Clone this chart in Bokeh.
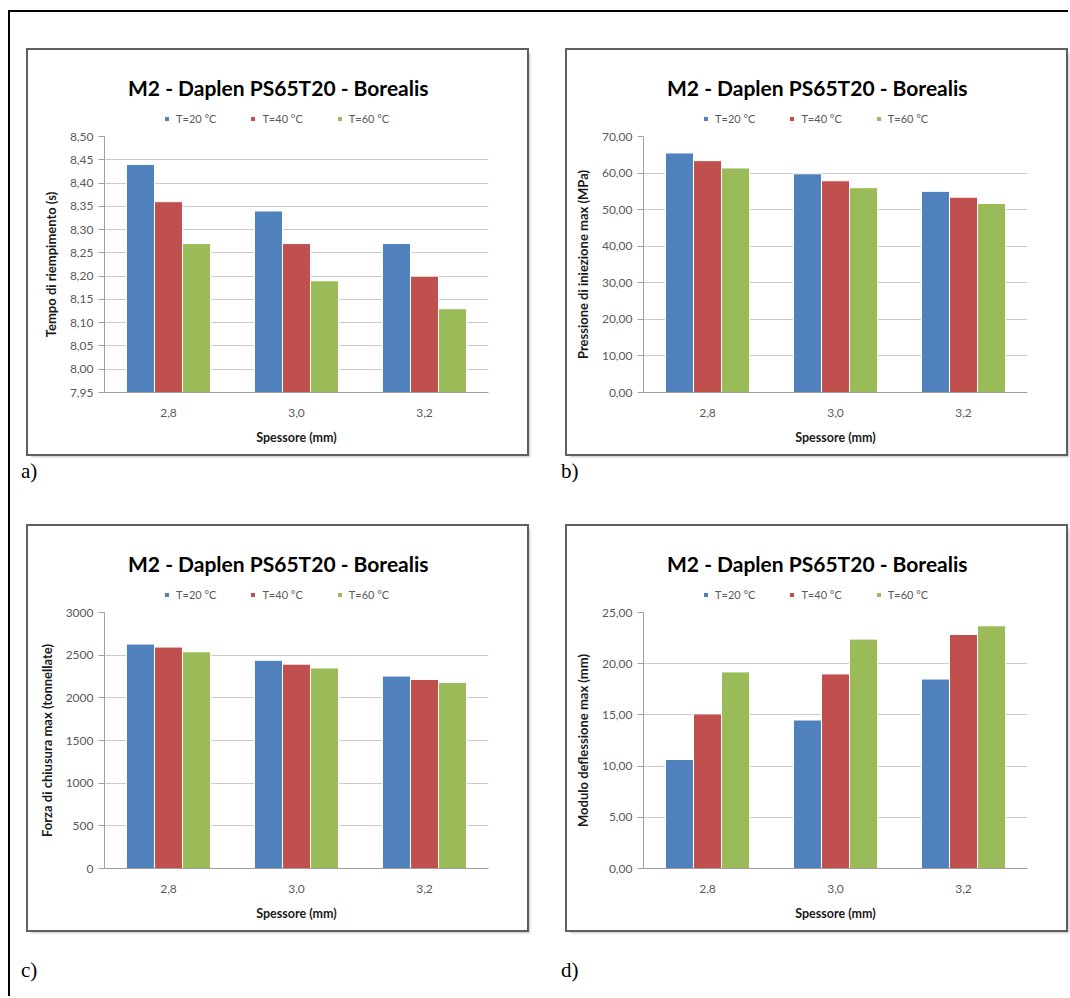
from bokeh.plotting import figure
from bokeh.models import (ColumnDataSource, Range1d, FactorRange, FixedTicker,
                          CustomJSTickFormatter, Legend, LegendItem, Div)
from bokeh.layouts import column, row
from bokeh.transform import dodge
from bokeh.embed import file_html
from bokeh.resources import INLINE

# ---------------- data ----------------
categories = ["2,8", "3,0", "3,2"]
series_labels = ["T=20 °C", "T=40 °C", "T=60 °C"]
colors = ["#4F81BD", "#C0504D", "#9BBB59"]
chart_title = "M2 - Daplen PS65T20 - Borealis"
x_title = "Spessore (mm)"
panel_labels = ["a)", "b)", "c)", "d)"]

a_ylabel = "Tempo di riempimento (s)"
a_t20 = [8.44, 8.34, 8.27]
a_t40 = [8.36, 8.27, 8.20]
a_t60 = [8.27, 8.19, 8.13]
a_ticks = [7.95, 8.00, 8.05, 8.10, 8.15, 8.20, 8.25, 8.30, 8.35, 8.40, 8.45, 8.50]

b_ylabel = "Pressione di iniezione max (MPa)"
b_t20 = [65.5, 59.8, 55.0]
b_t40 = [63.4, 57.9, 53.4]
b_t60 = [61.4, 56.0, 51.7]
b_ticks = [0, 10, 20, 30, 40, 50, 60, 70]

c_ylabel = "Forza di chiusura max (tonnellate)"
c_t20 = [2630, 2440, 2255]
c_t40 = [2595, 2395, 2215]
c_t60 = [2540, 2350, 2180]
c_ticks = [0, 500, 1000, 1500, 2000, 2500, 3000]

d_ylabel = "Modulo deflessione max (mm)"
d_t20 = [10.65, 14.50, 18.50]
d_t40 = [15.10, 19.00, 22.85]
d_t60 = [19.20, 22.40, 23.70]
d_ticks = [0, 5, 10, 15, 20, 25]

FONT = "Lato"
GRID = "#cccccc"
AXIS = "#a0a0a0"
FIG_W = 499
HEAD_H = 78          # header (title + legend) height
CHART_H = 326        # plot part height
B_LEFT, B_RIGHT, B_TOP, B_BOTTOM = 76, 39, 8, 62
KEYS = ["t20", "t40", "t60"]
OFFSETS = [-0.219, 0.0, 0.219]
BOX_STYLE = {"outline": "2px solid #5f5f5f",
             "box-shadow": "3px 3px 2px rgba(0,0,0,0.25)",
             "background": "#ffffff"}


def make_header(src, ticks):
    h = figure(width=FIG_W, height=HEAD_H, x_range=FactorRange(factors=categories),
               y_range=Range1d(ticks[0], ticks[-1]),
               x_axis_type=None, y_axis_type=None,
               output_backend="svg", toolbar_location=None, title=chart_title,
               min_border_left=B_LEFT, min_border_right=B_RIGHT,
               min_border_top=55, min_border_bottom=0)
    h.outline_line_color = None
    h.title.text_font = FONT
    h.title.text_font_size = "21px"
    h.title.text_font_style = "bold"
    h.title.text_color = "#000000"
    h.title.align = "left"
    h.title.offset = 23.5
    h.title.standoff = 11
    # legend keys: same series as the chart, not drawn in this header strip
    keys = []
    for key, off, col in zip(KEYS, OFFSETS, colors):
        r = h.vbar(x=dodge("cat", off, range=h.x_range), top=key,
                   bottom=ticks[0], width=0.219, source=src,
                   fill_color=col, line_color=None, visible=False)
        keys.append(r)
    legend = Legend(items=[LegendItem(label=lab, renderers=[r])
                           for lab, r in zip(series_labels, keys)],
                    orientation="horizontal", location=(60, 3),
                    glyph_width=5, glyph_height=5, label_standoff=7,
                    label_height=14, label_width=20, spacing=34,
                    padding=2, margin=0,
                    label_text_font=FONT, label_text_font_size="11px",
                    label_text_color="#595959",
                    inactive_fill_alpha=0,
                    border_line_color=None, background_fill_alpha=0)
    h.add_layout(legend, "center")
    return h


def make_chart(src, ylabel, ticks, decimals):
    p = figure(x_range=FactorRange(factors=categories),
               y_range=Range1d(ticks[0], ticks[-1]),
               width=FIG_W, height=CHART_H, output_backend="svg",
               toolbar_location=None,
               min_border_left=B_LEFT, min_border_right=B_RIGHT,
               min_border_top=B_TOP, min_border_bottom=B_BOTTOM)
    p.outline_line_color = None

    for key, off, col in zip(KEYS, OFFSETS, colors):
        p.vbar(x=dodge("cat", off, range=p.x_range), top=key,
               bottom=ticks[0], width=0.219, source=src,
               fill_color=col, line_color="white", line_width=1)

    # y axis
    p.yaxis.ticker = FixedTicker(ticks=ticks)
    p.yaxis.formatter = CustomJSTickFormatter(
        args=dict(d=decimals),
        code="return tick.toFixed(d).replace('.', ',');")
    p.yaxis.axis_label = ylabel
    p.yaxis.axis_label_text_font = FONT
    p.yaxis.axis_label_text_font_size = "13px"
    p.yaxis.axis_label_text_font_style = "bold"
    p.yaxis.axis_label_text_color = "#1a1a1a"
    p.yaxis.axis_label_standoff = 8
    p.yaxis.major_label_text_font = FONT
    p.yaxis.major_label_text_font_size = "12px"
    p.yaxis.major_label_text_color = "#595959"
    p.yaxis.major_label_standoff = 5
    p.yaxis.major_tick_out = 6
    p.yaxis.major_tick_in = 0
    p.yaxis.minor_tick_out = 0
    p.yaxis.minor_tick_in = 0
    p.yaxis.axis_line_color = AXIS
    p.yaxis.major_tick_line_color = AXIS

    # x axis
    p.xaxis.axis_label = x_title
    p.xaxis.axis_label_text_font = FONT
    p.xaxis.axis_label_text_font_size = "12.5px"
    p.xaxis.axis_label_text_font_style = "bold"
    p.xaxis.axis_label_text_color = "#1a1a1a"
    p.xaxis.axis_label_standoff = 10
    p.xaxis.major_label_text_font = FONT
    p.xaxis.major_label_text_font_size = "12px"
    p.xaxis.major_label_text_color = "#595959"
    p.xaxis.major_label_standoff = 16
    p.xaxis.major_tick_out = 0
    p.xaxis.major_tick_in = 0
    p.xaxis.axis_line_color = AXIS

    p.xgrid.grid_line_color = None
    p.ygrid.grid_line_color = GRID
    p.ygrid.ticker = FixedTicker(ticks=ticks)
    return p


def chart_box(ylabel, t20, t40, t60, ticks, decimals, margin):
    src = ColumnDataSource(dict(cat=categories, t20=t20, t40=t40, t60=t60))
    box = column(make_header(src, ticks), make_chart(src, ylabel, ticks, decimals))
    box.styles = BOX_STYLE
    box.margin = margin
    return box


def label_div(txt, margin):
    html = ('<div style="font-family:\'Liberation Serif\',serif;font-size:21px;'
            'line-height:24px;color:#000;white-space:nowrap;">%s</div>' % txt)
    return Div(text=html, width=40, height=24, margin=margin)


box_a = chart_box(a_ylabel, a_t20, a_t40, a_t60, a_ticks, 2, (50, 0, 0, 28))
box_b = chart_box(b_ylabel, b_t20, b_t40, b_t60, b_ticks, 2, (50, 2, 0, 40))
box_c = chart_box(c_ylabel, c_t20, c_t40, c_t60, c_ticks, 0, (43, 0, 0, 28))
box_d = chart_box(d_ylabel, d_t20, d_t40, d_t60, d_ticks, 2, (43, 2, 0, 40))

col_a = column(box_a, label_div(panel_labels[0], (5, 0, 0, 21)))
col_b = column(box_b, label_div(panel_labels[1], (5, 0, 0, 34)))
col_c = column(box_c, label_div(panel_labels[2], (28, 0, 14, 21)))
col_d = column(box_d, label_div(panel_labels[3], (28, 0, 14, 34)))

root = column(row(col_a, col_b), row(col_c, col_d))
root.styles = {
    "background": ("linear-gradient(#000,#000) 8px 10px / 100% 2px no-repeat, "
                   "linear-gradient(#000,#000) 8px 10px / 2px 100% no-repeat"),
}

open("out.html", "w").write(file_html(root, INLINE))
